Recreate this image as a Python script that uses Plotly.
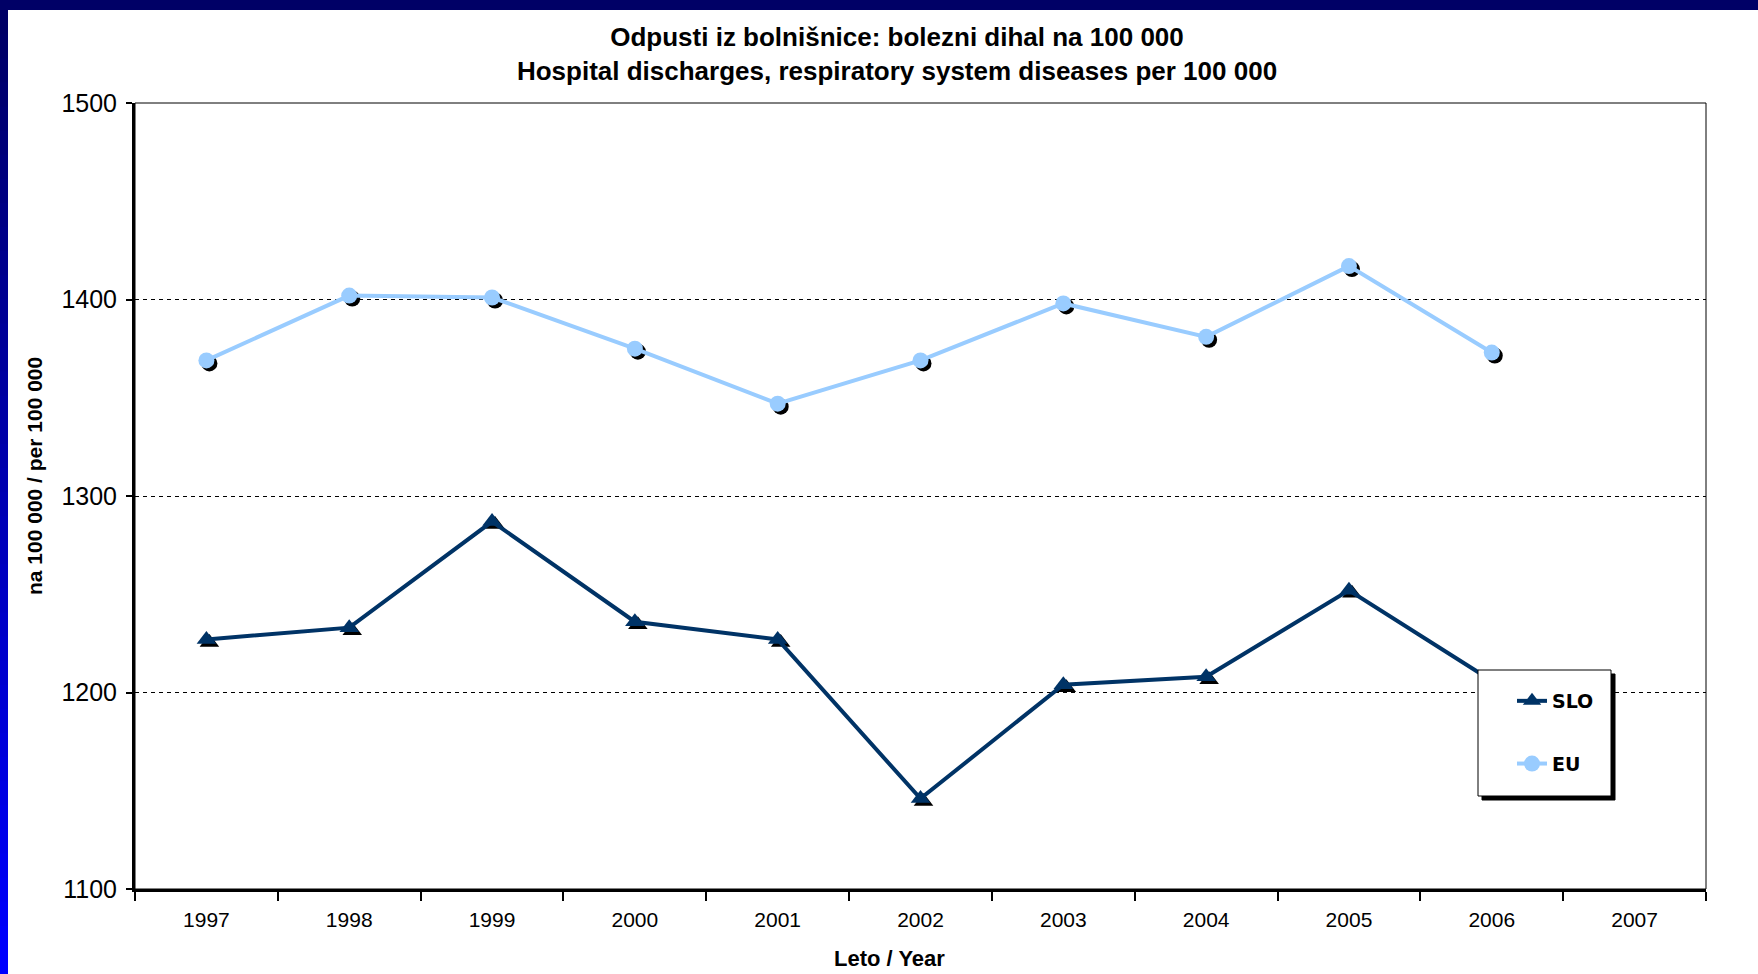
import plotly.graph_objects as go

# Hospital discharges, respiratory system diseases per 100 000
years = [1997, 1998, 1999, 2000, 2001, 2002, 2003, 2004, 2005, 2006]
slo = [1227, 1233, 1287, 1236, 1227, 1146, 1204, 1208, 1252, 1206]
eu = [1369, 1402, 1401, 1375, 1347, 1369, 1398, 1381, 1417, 1373]
year_labels = [1997, 1998, 1999, 2000, 2001, 2002, 2003, 2004, 2005, 2006, 2007]

W, H = 1758, 974
L, R, T, B = 135, 52, 103, 85
pw, ph = W - L - R, H - T - B


def px_x(x):
    return (x - L) / pw


def px_y(y):
    return (H - B - y) / ph


x_range = [year_labels[0] - 0.5, year_labels[-1] + 0.5]
y_range = [1100, 1500]
# shadow offset (pixels) converted to data units
dx = 3 * (x_range[1] - x_range[0]) / pw
dy = 3 * (y_range[1] - y_range[0]) / ph

slo_col = "#003366"
eu_col = "#99CCFF"

fig = go.Figure()

# drop shadows of markers, drawn on the hidden base axes
fig.add_trace(go.Scatter(x=years, y=slo, mode="markers", xaxis="x", yaxis="y",
                         marker=dict(symbol="triangle-up", size=17, color="black"),
                         showlegend=False, hoverinfo="skip"))
fig.add_trace(go.Scatter(x=years, y=eu, mode="markers", xaxis="x", yaxis="y",
                         marker=dict(symbol="circle", size=16, color="black"),
                         showlegend=False, hoverinfo="skip"))

fig.add_trace(go.Scatter(x=years, y=slo, name="SLO", mode="lines+markers",
                         xaxis="x2", yaxis="y2", legendgroup="a",
                         line=dict(color=slo_col, width=4),
                         marker=dict(symbol="triangle-up", size=17, color=slo_col)))
fig.add_trace(go.Scatter(x=years, y=eu, name="EU", mode="lines+markers",
                         xaxis="x2", yaxis="y2", legendgroup="b",
                         line=dict(color=eu_col, width=4),
                         marker=dict(symbol="circle", size=16, color=eu_col)))

shapes = []
# slide frame: navy bar at the top, blue gradient strip on the left
shapes.append(dict(type="rect", xref="paper", yref="paper", layer="below",
                   x0=px_x(0), x1=px_x(W), y0=px_y(10), y1=px_y(0),
                   fillcolor="#000066", line=dict(width=0)))
n = 40
for i in range(n):
    f = i / (n - 1)
    b = int(102 + (255 - 102) * f)
    y0 = 10 + (H - 10) * i / n
    y1 = 10 + (H - 10) * (i + 1) / n
    shapes.append(dict(type="rect", xref="paper", yref="paper", layer="below",
                       x0=px_x(0), x1=px_x(8), y0=px_y(y1 + 1), y1=px_y(y0),
                       fillcolor=f"rgb(0,0,{b})", line=dict(width=0)))
# thin frame of plot area (top/right)
shapes.append(dict(type="rect", xref="paper", yref="paper", layer="below",
                   x0=0, x1=1, y0=0, y1=1, line=dict(color="black", width=1)))
# legend box with shadow
lx0, lx1, ly0, ly1 = 1478, 1611, 670, 796
shapes.append(dict(type="rect", xref="paper", yref="paper", layer="above",
                   x0=px_x(lx0 + 4), x1=px_x(lx1 + 4), y0=px_y(ly1 + 4), y1=px_y(ly0 + 4),
                   fillcolor="black", line=dict(color="black", width=1)))
shapes.append(dict(type="rect", xref="paper", yref="paper", layer="above",
                   x0=px_x(lx0), x1=px_x(lx1), y0=px_y(ly1), y1=px_y(ly0),
                   fillcolor="white", line=dict(color="black", width=1)))

fig.update_layout(
    width=W, height=H,
    margin=dict(l=L, r=R, t=T, b=B),
    paper_bgcolor="white", plot_bgcolor="white",
    shapes=shapes,
    title=dict(text="Odpusti iz bolnišnice: bolezni dihal na 100 000<br>Hospital discharges, respiratory system diseases per 100 000",
               x=897 / W, xanchor="center", y=1 - 46 / H, yanchor="middle",
               font=dict(family="Liberation Sans, Arial", size=26, color="black", weight="bold")),
    xaxis=dict(range=[x_range[0] - dx, x_range[1] - dx], visible=False, fixedrange=True),
    yaxis=dict(range=[y_range[0] + dy, y_range[1] + dy], visible=False, fixedrange=True),
    xaxis2=dict(overlaying="x", range=x_range, tickmode="array", tickvals=year_labels,
                ticks="", showgrid=False, zeroline=False, ticklabelstandoff=10,
                tickfont=dict(family="Liberation Sans, Arial", size=21, color="black"),
                showline=True, linecolor="black", linewidth=3,
                minor=dict(tickmode="linear", tick0=x_range[0], dtick=1, ticks="outside",
                           ticklen=9, tickwidth=2, tickcolor="black", showgrid=False)),
    yaxis2=dict(overlaying="y", range=y_range, dtick=100, tick0=1100, ticks="outside",
                ticklen=6, tickwidth=2, tickcolor="black", zeroline=False,
                showgrid=True, gridcolor="black", gridwidth=1, griddash="4px,4px",
                showline=True, linecolor="black", linewidth=3, ticklabelstandoff=4,
                tickfont=dict(family="Liberation Sans, Arial", size=25, color="black")),
    legend=dict(x=px_x(1512), y=px_y(682), xanchor="left", yanchor="top",
                bgcolor="rgba(0,0,0,0)", borderwidth=0, traceorder="grouped",
                tracegroupgap=35,
                font=dict(family="DejaVu Sans", size=19, color="black", weight="bold")),
    annotations=[
        dict(text="<b>na 100 000 / per 100 000</b>", textangle=-90, xref="paper", yref="paper",
             x=px_x(34), y=px_y(476), xanchor="center", yanchor="middle", showarrow=False,
             font=dict(family="Liberation Sans, Arial", size=21, color="black")),
        dict(text="<b>Leto / Year</b>", xref="paper", yref="paper",
             x=px_x(889), y=px_y(958), xanchor="center", yanchor="middle", showarrow=False,
             font=dict(family="Liberation Sans, Arial", size=22, color="black")),
    ],
    showlegend=True,
)

fig.write_html("out.html", config={"displayModeBar": False},
               post_script="document.body.style.margin='0';")
